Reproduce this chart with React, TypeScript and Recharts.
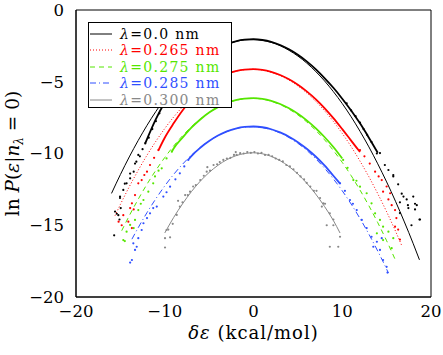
import { ComposedChart, Line, Scatter, XAxis, YAxis } from "recharts";

// fitted curves
const fit00: [number, number][] = [
  [-16, -12.78], [-15, -11.47], [-14, -10.24], [-13, -9.1], [-12, -8.04], [-11, -7.07], [-10, -6.18],
  [-9, -5.38], [-8, -4.67], [-7, -4.04], [-6, -3.5], [-5, -3.04], [-4, -2.67], [-3, -2.39], [-2, -2.19],
  [-1, -2.08], [0, -2.05], [1, -2.11], [2, -2.26], [3, -2.49], [4, -2.81], [5, -3.21], [6, -3.7],
  [7, -4.28], [8, -4.94], [9, -5.69], [10, -6.52], [11, -7.44], [12, -8.45], [13, -9.54], [14, -10.72],
  [15, -11.98], [16, -13.33], [17, -14.77], [18, -16.29], [18.7, -17.41],
];
const fit265: [number, number][] = [
  [-15.6, -14.33], [-15, -13.55], [-14, -12.32], [-13, -11.18], [-12, -10.12], [-11, -9.15], [-10, -8.26],
  [-9, -7.46], [-8, -6.75], [-7, -6.12], [-6, -5.58], [-5, -5.12], [-4, -4.75], [-3, -4.47], [-2, -4.27],
  [-1, -4.16], [0, -4.13], [1, -4.19], [2, -4.34], [3, -4.57], [4, -4.89], [5, -5.29], [6, -5.78],
  [7, -6.36], [8, -7.02], [9, -7.77], [10, -8.6], [11, -9.52], [12, -10.53], [13, -11.62], [14, -12.8],
  [15, -14.06], [16, -15.41], [16.7, -16.41],
];
const fit275: [number, number][] = [
  [-14.85, -15.38], [-14, -14.34], [-13, -13.2], [-12, -12.14], [-11, -11.17], [-10, -10.28], [-9, -9.48],
  [-8, -8.77], [-7, -8.14], [-6, -7.6], [-5, -7.14], [-4, -6.77], [-3, -6.49], [-2, -6.29], [-1, -6.18],
  [0, -6.15], [1, -6.21], [2, -6.36], [3, -6.59], [4, -6.91], [5, -7.31], [6, -7.8], [7, -8.38],
  [8, -9.04], [9, -9.79], [10, -10.62], [11, -11.54], [12, -12.55], [13, -13.64], [14, -14.82],
  [15, -16.08], [15.95, -17.37],
];
const fit285: [number, number][] = [
  [-13.7, -15.97], [-13, -15.18], [-12, -14.12], [-11, -13.15], [-10, -12.26], [-9, -11.46], [-8, -10.75],
  [-7, -10.12], [-6, -9.58], [-5, -9.12], [-4, -8.75], [-3, -8.47], [-2, -8.27], [-1, -8.16], [0, -8.13],
  [1, -8.19], [2, -8.34], [3, -8.57], [4, -8.89], [5, -9.29], [6, -9.78], [7, -10.36], [8, -11.02],
  [9, -11.77], [10, -12.6], [11, -13.52], [12, -14.53], [13, -15.62], [14, -16.8], [15, -18.06], [15.2, -18.33],
];
const fit300: [number, number][] = [
  [-10, -15.54], [-9, -14.46], [-8, -13.51], [-7, -12.66], [-6, -11.93], [-5, -11.32], [-4, -10.82],
  [-3, -10.43], [-2, -10.16], [-1, -10.0], [0, -9.95], [1, -10.02], [2, -10.2], [3, -10.5], [4, -10.91],
  [5, -11.43], [6, -12.07], [7, -12.82], [8, -13.69], [9, -14.67], [9.75, -15.54],
];

// dense part of the sampled histograms
const core00: [number, number][] = [
  [-12.2, -9.3], [-12, -9.0], [-11, -7.6], [-10, -6.45], [-9, -5.5], [-8, -4.72], [-7, -4.06], [-6, -3.5],
  [-5, -3.03], [-4, -2.66], [-3, -2.38], [-2, -2.18], [-1, -2.07], [0, -2.04], [1, -2.09], [2, -2.22],
  [3, -2.44], [4, -2.74], [5, -3.12], [6, -3.58], [7, -4.12], [8, -4.74], [9, -5.42], [10, -6.18],
  [11, -7.0], [12, -7.9], [13, -8.9], [14, -9.95],
];
const core265: [number, number][] = [
  [-10.7, -9.76], [-10, -8.9], [-9, -7.9], [-8, -7.0], [-7, -6.25], [-6, -5.62], [-5, -5.13], [-4, -4.75],
  [-3, -4.46], [-2, -4.26], [-1, -4.15], [0, -4.12], [1, -4.17], [2, -4.31], [3, -4.53], [4, -4.83],
  [5, -5.21], [6, -5.67], [7, -6.21], [8, -6.83], [9, -7.53], [10, -8.3], [11, -9.1], [12, -9.9],
];
const core275: [number, number][] = [
  [-9.2, -9.87], [-9, -9.65], [-8, -8.9], [-7, -8.2], [-6, -7.63], [-5, -7.15], [-4, -6.77], [-3, -6.48],
  [-2, -6.28], [-1, -6.17], [0, -6.14], [1, -6.19], [2, -6.33], [3, -6.55], [4, -6.85], [5, -7.23],
  [6, -7.69], [7, -8.23], [8, -8.85], [9, -9.55], [10, -10.35],
];
const core285: [number, number][] = [
  [-7.3, -10.4], [-7, -10.18], [-6, -9.6], [-5, -9.13], [-4, -8.75], [-3, -8.46], [-2, -8.26], [-1, -8.15],
  [0, -8.12], [1, -8.17], [2, -8.31], [3, -8.53], [4, -8.83], [5, -9.21], [6, -9.67], [7, -10.21],
  [8, -10.83], [9, -11.55], [9.75, -12.1],
];

// sparse tail points
const pts00: [number, number][] = [
  [-10.6, -7.2], [-11.0, -7.75], [-11.4, -8.3], [-11.8, -8.9], [-12.2, -9.3], [-12.5, -9.7], [-12.8, -10.2],
  [-12.98, -10.1], [-13.2, -10.57], [-13.35, -10.7], [-13.5, -11.27], [-13.9, -11.4], [-13.9, -11.73],
  [-14.3, -12.08], [-14.5, -12.1], [-14.67, -12.54], [-15.04, -13.0], [-15.04, -13.1], [-14.96, -13.8],
  [-15.4, -14.2], [-15.6, -14.05], [-15.23, -14.3], [-15.1, -14.6], [-15.7, -15.7],
  [10.5, -6.5], [11, -7.0], [11.5, -7.4], [12, -7.85], [12.4, -8.3], [12.8, -8.7], [13.3, -9.2], [13.9, -10.0],
  [14.25, -9.97], [14.8, -10.8], [15.2, -11.15], [15.75, -11.5], [15.75, -11.6], [16.3, -12.15], [16.7, -12.8],
  [16.9, -13.0], [16.5, -13.4], [16.5, -14.15], [17.26, -13.2], [17.45, -13.8], [17.4, -13.6], [17.8, -15.0],
  [18.0, -13.0], [18.2, -13.9], [18.2, -13.5], [18.4, -13.6], [18.7, -14.6], [18.76, -14.6],
];
const pts265: [number, number][] = [
  [-10.72, -9.76], [-11.2, -10.3], [-11.66, -10.8], [-12.0, -11.27], [-12.3, -11.5], [-12.6, -11.85],
  [-12.98, -12.08], [-13.35, -12.9], [-13.5, -13.9], [-13.7, -13.47], [-13.9, -13.8], [-14.1, -14.75],
  [-14.67, -14.3], [-14.85, -15.0], [-15.2, -14.75], [-13.7, -15.2],
  [12.0, -9.76], [12.5, -10.2], [13.1, -10.7], [13.7, -11.27], [14.1, -11.6], [14.45, -11.85], [14.6, -12.66],
  [15.0, -12.3], [15.4, -12.77], [15.57, -13.6], [15.95, -13.94], [16.1, -14.5], [15.95, -15.1], [16.3, -15.3],
  [16.5, -16.0], [15.2, -13.2],
];
const pts275: [number, number][] = [
  [-9.2, -9.87], [-9.8, -10.34], [-10.34, -11.03], [-10.7, -11.2], [-11.1, -11.6], [-11.3, -12.08],
  [-11.85, -12.66], [-12.4, -13.24], [-12.7, -13.5], [-12.98, -13.94], [-13.35, -14.63], [-13.5, -15.2],
  [-13.9, -14.98], [-14.3, -15.45], [-14.67, -16.03], [-14.5, -16.1],
  [10.1, -10.45], [10.6, -11.0], [11.25, -11.85], [11.6, -11.9], [12.0, -12.31], [12.75, -12.77],
  [13.3, -13.47], [13.7, -14.17], [13.9, -15.56], [14.25, -14.63], [14.6, -15.1], [14.6, -16.03],
  [15.2, -15.45], [15.57, -16.6], [15.75, -15.9],
];
const pts285: [number, number][] = [
  [-7.35, -10.45], [-7.8, -10.9], [-8.3, -11.38], [-8.8, -11.8], [-9.4, -12.31], [-9.8, -12.7],
  [-10.16, -13.0], [-10.9, -13.7], [-11.3, -13.8], [-11.66, -14.17], [-12.0, -14.5], [-12.4, -14.86],
  [-12.6, -15.33], [-12.98, -15.9], [-13.16, -16.5], [-13.54, -16.26], [-13.35, -16.72], [-13.7, -17.42],
  [-13.9, -17.6],
  [9.75, -12.08], [10.3, -12.6], [10.87, -13.24], [11.2, -13.5], [11.63, -13.94], [12.2, -14.63],
  [12.75, -15.2], [13.3, -15.8], [13.5, -16.5], [13.9, -16.15], [14.25, -16.72], [14.45, -15.9],
  [14.6, -17.42], [15.0, -17.9], [15.1, -18.3],
];
const pts300: [number, number][] = [
  [-9.97, -15.9], [-9.97, -16.55], [-9.4, -15.84], [-9.8, -15.33], [-9.6, -15.3], [-9.1, -14.9],
  [-8.65, -14.28], [-8.5, -13.3], [-8.3, -13.7], [-8.0, -13.4], [-7.7, -12.9], [-7.4, -12.9],
  [-7.15, -12.66], [-6.8, -12.3], [-6.5, -12.2], [-6.0, -11.85], [-5.6, -11.55], [-5.27, -11.27],
  [-5.2, -10.95], [-4.9, -11.2], [-4.5, -10.8], [-4.1, -10.75], [-3.8, -10.6], [-3.4, -10.45],
  [-3.0, -10.35], [-2.6, -10.3], [-2.2, -10.1], [-2.0, -9.9], [-1.9, -10.1], [-1.5, -9.98], [-1.1, -10.0],
  [-0.7, -9.9], [-0.3, -9.95], [0.1, -9.9], [0.5, -10.0], [0.9, -9.95], [1.3, -10.1], [1.7, -10.1],
  [2.1, -10.2], [2.5, -10.35], [2.9, -10.45], [3.3, -10.55], [3.7, -10.8], [4.1, -10.9], [4.5, -11.1],
  [4.9, -11.35], [5.3, -11.6], [5.7, -11.8], [6.0, -12.05], [6.4, -12.3], [6.8, -12.6], [7.1, -12.6],
  [7.5, -13.1], [7.7, -13.7], [7.87, -13.47], [8.06, -13.5], [8.25, -15.0], [8.6, -14.17], [8.6, -16.5],
  [9.0, -15.0], [9.0, -14.6], [9.55, -16.5], [9.75, -15.8],
];

const lambdas = ["0.0", "0.265", "0.275", "0.285", "0.300"];
const colors = ["#000000", "#ff0000", "#55e600", "#2f4fff", "#888888"];
const dashes = ["", "1 2", "5 4", "6 3 1 3", ""];
const xTicks = [-20, -10, 0, 10, 20];
const yTicks = [-20, -15, -10, -5, 0];

const fits = [fit00, fit265, fit275, fit285, fit300];
const cores = [core00, core265, core275, core285];
const tails = [pts00, pts265, pts275, pts285, pts300];

const FONT = "'DejaVu Serif', serif";
const toXY = (a: [number, number][]) => a.map(([x, y]) => ({ x, y }));
const fmt = (v: number) => (v < 0 ? "\u2212" + Math.abs(v) : String(v));
const noTick = () => <g />;

export default function App() {
  return (
    <div style={{ position: "absolute", left: 0, top: 0, width: 443, height: 355, background: "#fff" }}>
      <ComposedChart width={443} height={355} margin={{ top: 10, right: 12, bottom: 0, left: 0 }}>
        <XAxis
          xAxisId="b" type="number" dataKey="x" domain={[-20, 20]} ticks={xTicks} height={58}
          tickLine={false} tickSize={0} tickMargin={8} tickFormatter={fmt}
          axisLine={{ stroke: "#000" }}
          tick={{ fill: "#000", fontFamily: FONT, fontSize: 16.5 }}
          label={{
            content: () => (
              <text x={253.5} y={339} textAnchor="middle" fontFamily={FONT} fontSize={18}
                letterSpacing={1} fill="#000">
                <tspan fontStyle="italic">δε</tspan>
                <tspan> (kcal/mol)</tspan>
              </text>
            ),
          }}
        />
        <XAxis xAxisId="bm" orientation="bottom" mirror type="number" dataKey="x" domain={[-20, 20]}
          ticks={xTicks} tick={noTick} tickSize={6} axisLine={{ stroke: "#000" }} tickLine={{ stroke: "#000" }} />
        <XAxis xAxisId="tm" orientation="top" mirror type="number" dataKey="x" domain={[-20, 20]}
          ticks={xTicks} tick={noTick} tickSize={6} axisLine={{ stroke: "#000" }} tickLine={{ stroke: "#000" }} />
        <YAxis
          yAxisId="l" type="number" domain={[-20, 0]} ticks={yTicks} width={76}
          tickLine={false} tickSize={0} tickMargin={12} tickFormatter={fmt}
          axisLine={{ stroke: "#000" }}
          tick={{ fill: "#000", fontFamily: FONT, fontSize: 16.5 }}
          label={{
            content: () => (
              <text x={19} y={153.5} transform="rotate(-90 19 153.5)" textAnchor="middle"
                fontFamily={FONT} fontSize={18.5} fill="#000">
                <tspan>ln </tspan>
                <tspan fontStyle="italic">P</tspan>
                <tspan>(</tspan>
                <tspan fontStyle="italic">ε</tspan>
                <tspan>|</tspan>
                <tspan fontStyle="italic">n</tspan>
                <tspan fontStyle="italic" fontSize={12} dy={4}>λ</tspan>
                <tspan dy={-4}> = 0)</tspan>
              </text>
            ),
          }}
        />
        <YAxis yAxisId="lm" orientation="left" mirror type="number" domain={[-20, 0]} ticks={yTicks}
          tick={noTick} tickSize={6} axisLine={{ stroke: "#000" }} tickLine={{ stroke: "#000" }} />
        <YAxis yAxisId="rm" orientation="right" mirror type="number" domain={[-20, 0]} ticks={yTicks}
          tick={noTick} tickSize={6} axisLine={{ stroke: "#000" }} tickLine={{ stroke: "#000" }} />

        {tails.map((t, i) => (
          <Scatter key={"s" + i} xAxisId="b" yAxisId="l" data={toXY(t)} dataKey="y" isAnimationActive={false}
            shape={(p: any) => <circle cx={p.cx} cy={p.cy} r={1.1} fill={colors[i]} />} />
        ))}
        {cores.map((c, i) => (
          <Line key={"c" + i} xAxisId="b" yAxisId="l" data={toXY(c)} dataKey="y" type="monotone"
            stroke={colors[i]} strokeWidth={1.8} dot={false} activeDot={false} isAnimationActive={false} />
        ))}
        {fits.map((f, i) => (
          <Line key={"f" + i} xAxisId="b" yAxisId="l" data={toXY(f)} dataKey="y" type="monotone"
            stroke={colors[i]} strokeWidth={1} strokeDasharray={dashes[i] || undefined}
            dot={false} activeDot={false} isAnimationActive={false} />
        ))}
      </ComposedChart>

      <div style={{
        position: "absolute", left: 88, top: 22, width: 144, height: 86, boxSizing: "border-box",
        background: "#fff", border: "1px solid #000", fontFamily: FONT, fontSize: 14,
      }}>
        {lambdas.map((l, i) => (
          <div key={l} style={{ position: "absolute", left: 0, top: 2.5 + i * 16.5, height: 16, display: "flex", alignItems: "center" }}>
            <svg width={28} height={16} style={{ display: "block" }}>
              <line x1={1} x2={23} y1={8} y2={8} stroke={colors[i]} strokeWidth={1}
                strokeDasharray={dashes[i] || undefined} />
            </svg>
            <span style={{
              lineHeight: "16px", color: colors[i], whiteSpace: "nowrap", marginLeft: 3, letterSpacing: 1.3,
            }}>
              <i>λ</i>={l} nm
            </span>
          </div>
        ))}
      </div>
    </div>
  );
}
